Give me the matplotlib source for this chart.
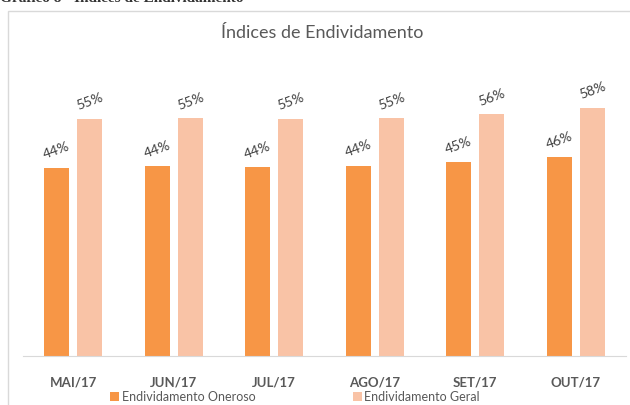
import matplotlib
matplotlib.use("Agg")
import matplotlib.pyplot as plt
from matplotlib.patches import Rectangle
import numpy as np

meses = ["MAI/17", "JUN/17", "JUL/17", "AGO/17", "SET/17", "OUT/17"]
oneroso = [43.9, 44.3, 44.1, 44.4, 45.2, 46.3]
geral = [55.3, 55.4, 55.3, 55.4, 56.4, 57.9]
rot_oneroso = ["44%", "44%", "44%", "44%", "45%", "46%"]
rot_geral = ["55%", "55%", "55%", "55%", "56%", "58%"]

c_oneroso = "#F79646"
c_geral = "#F9C3A6"
cinza = "#595959"

W, H = 630, 405
fig = plt.figure(figsize=(6.3, 4.05), dpi=100)

# moldura do grafico
fig.patches.append(Rectangle((8 / W, -0.05), 1.0, 1 - 11 / H + 0.05,
                             transform=fig.transFigure, fill=False,
                             ec="#D9D9D9", lw=1))

# legenda do documento (cortada no topo, como na imagem original)
fig.text(0.0, 1 + 1 / H, "Gráfico 8 - Índices de Endividamento",
         family="Liberation Serif", weight="bold", fontsize=11,
         va="center", ha="left", color="#333333")

fig.text(322 / W, 1 - 33 / H, "Índices de Endividamento", family="Lato",
         fontsize=13, color=cinza, ha="center", va="center")

ax = fig.add_axes([23 / W, 1 - 356 / H, 603 / W, 296 / H])
x = np.arange(len(meses))
w = 0.25
off = 0.165
b1 = ax.bar(x - off, oneroso, w, color=c_oneroso, label="Endividamento Oneroso")
b2 = ax.bar(x + off, geral, w, color=c_geral, label="Endividamento Geral")

for i in range(len(meses)):
    ax.text(x[i] - off, oneroso[i] + 1.5, rot_oneroso[i], rotation=20,
            ha="center", va="bottom", fontsize=10, color="#404040", family="Lato")
    ax.text(x[i] + off, geral[i] + 1.5, rot_geral[i], rotation=20,
            ha="center", va="bottom", fontsize=10, color="#404040", family="Lato")

ax.set_xlim(-0.5, len(meses) - 0.5)
ax.set_ylim(0, 69)
ax.set_xticks(x)
ax.set_xticklabels(meses, fontweight="bold", fontsize=9.5, color=cinza, family="Lato")
ax.tick_params(axis="x", length=0, pad=15)
ax.set_yticks([])
for s in ["top", "right", "left"]:
    ax.spines[s].set_visible(False)
ax.spines["bottom"].set_color("#D9D9D9")

leg = fig.legend(handles=[b1, b2], loc="center", bbox_to_anchor=(295 / W, 1 - 397 / H),
                 ncol=2, frameon=False, handlelength=0.7, handleheight=0.7,
                 handletextpad=0.2, columnspacing=7.8, prop={"family": "Lato", "size": 9})
for t in leg.get_texts():
    t.set_color(cinza)

fig.savefig("out.png", dpi=100)
